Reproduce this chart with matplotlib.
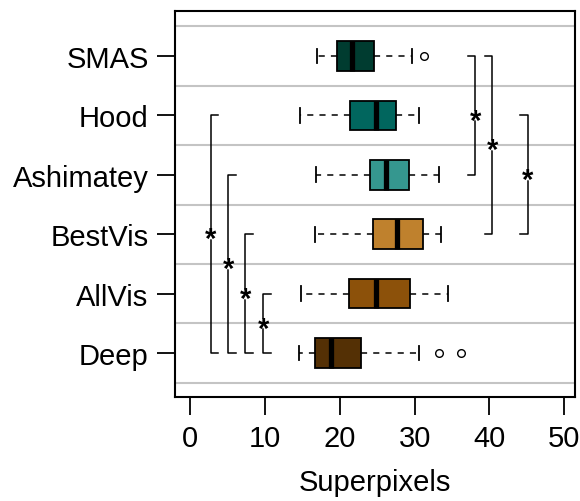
import matplotlib
matplotlib.use("Agg")
import matplotlib.pyplot as plt

plt.rcParams['font.family'] = ['Liberation Sans', 'DejaVu Sans']

# ---- data (bottom to top) ----
methods = ["Deep", "AllVis", "BestVis", "Ashimatey", "Hood", "SMAS"]
whislo = [14.6, 14.8, 16.7, 16.9, 14.7, 17.0]
q1     = [16.7, 21.3, 24.4, 24.0, 21.4, 19.6]
med    = [18.8, 24.8, 27.7, 26.2, 24.8, 21.6]
q3     = [22.8, 29.4, 31.1, 29.3, 27.5, 24.6]
whishi = [30.6, 34.5, 33.5, 33.3, 30.6, 29.7]
fliers = [[33.3, 36.2], [], [], [], [], [31.3]]
colors = ["#543005", "#8c510a", "#bf812d", "#35978f", "#01665e", "#003c30"]

# significance brackets: (x position, lower method index, upper method index, side)
brackets = [
    (2.8, 0, 4, "left"),
    (5.1, 0, 3, "left"),
    (7.4, 0, 2, "left"),
    (9.8, 0, 1, "left"),
    (38.1, 3, 5, "right"),
    (40.4, 2, 5, "right"),
    (45.1, 2, 4, "right"),
]

xticks = [0, 10, 20, 30, 40, 50]

fig = plt.figure(figsize=(5.8, 5.02), dpi=100)
ax = fig.add_axes([175/580, 1-397.7/502, 400/580, 385.7/502])

pos = list(range(1, len(methods)+1))
for y in [p - 0.5 for p in pos] + [pos[-1] + 0.5]:
    ax.axhline(y, color="#c4c4c4", lw=1.5, zorder=0)

stats = []
for i, m in enumerate(methods):
    stats.append(dict(label=m, whislo=whislo[i], q1=q1[i], med=med[i],
                      q3=q3[i], whishi=whishi[i], fliers=fliers[i]))

bp = ax.bxp(stats, positions=pos, widths=0.5, capwidths=0.25,
            orientation='horizontal', patch_artist=True,
            boxprops=dict(edgecolor="black", linewidth=1.3),
            medianprops=dict(color="black", linewidth=3.8, solid_capstyle='butt'),
            whiskerprops=dict(color="black", linewidth=1.1, linestyle=(0, (4, 4))),
            capprops=dict(color="black", linewidth=1.3),
            flierprops=dict(marker='o', markerfacecolor='none',
                            markeredgecolor='black', markersize=5.5,
                            markeredgewidth=1.0))
for patch, c in zip(bp['boxes'], colors):
    patch.set_facecolor(c)
    patch.set_zorder(2)

tick_len = 1.0
for x, lo, hi, side in brackets:
    y0, y1 = pos[lo], pos[hi]
    d = tick_len if side == "left" else -tick_len
    ax.plot([x + d, x, x, x + d], [y0, y0, y1, y1], color="black", lw=1.1, zorder=3)
    ax.annotate("*", xy=(x, (y0 + y1) / 2), xytext=(0, -9.5),
                textcoords="offset points", ha="center", va="baseline",
                fontsize=21, fontweight="bold", zorder=4)
    ax.plot([x], [(y0 + y1) / 2], marker='o', ms=7, mfc='white', mec='none',
            zorder=3.5)

ax.set_xlim(-2.0, 51.43)
ax.set_ylim(0.264, 6.758)
ax.set_xticks(xticks)
ax.set_xticklabels([str(t) for t in xticks])
ax.set_yticks(pos)
ax.set_yticklabels(methods)
ax.tick_params(axis='both', labelsize=21, length=13, width=1.3, direction='out',
               color='black')
ax.tick_params(axis='x', pad=7)
ax.tick_params(axis='y', pad=6)
ax.set_xlabel("Superpixels", fontsize=21, labelpad=11)
for s in ax.spines.values():
    s.set_linewidth(1.5)

fig.savefig("out.png", dpi=100)
